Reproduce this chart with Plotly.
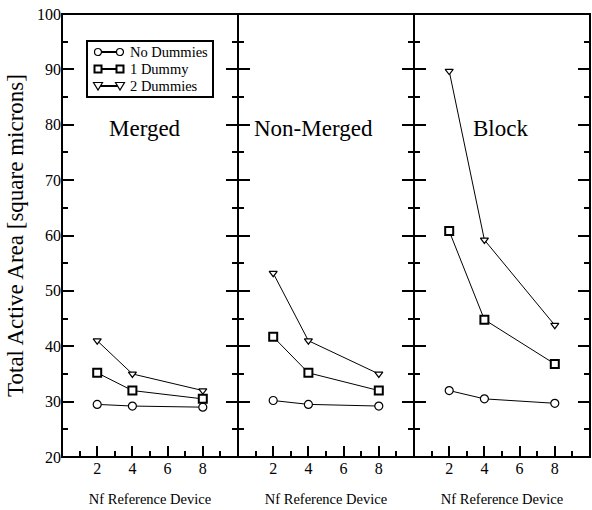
import plotly.graph_objects as go
from plotly.subplots import make_subplots

# Number of fingers of the reference device
nf = [2, 4, 8]

panels = ["Merged", "Non-Merged", "Block"]

# Total active area [square microns] per layout style
no_dummies = {
    "Merged": [29.5, 29.2, 29.0],
    "Non-Merged": [30.2, 29.5, 29.2],
    "Block": [32.0, 30.5, 29.7],
}
one_dummy = {
    "Merged": [35.2, 32.0, 30.5],
    "Non-Merged": [41.7, 35.2, 32.0],
    "Block": [60.8, 44.8, 36.8],
}
two_dummies = {
    "Merged": [41.0, 35.0, 32.0],
    "Non-Merged": [53.2, 41.0, 35.0],
    "Block": [89.7, 59.2, 43.8],
}

x_ticks = [2, 4, 6, 8]
x_minor = [1, 3, 5, 7, 9]
y_ticks = [20, 30, 40, 50, 60, 70, 80, 90, 100]

# Panel label positions (data coordinates inside each panel)
label_pos = {"Merged": (4.7, 79.3), "Non-Merged": (4.3, 79.3), "Block": (4.9, 79.3)}

FONT = "Liberation Serif"
W, H = 592, 510
ML, MR, MT, MB = 62, 2, 14, 53
PW, PH = W - ML - MR, H - MT - MB

series = [
    ("No Dummies", no_dummies, "circle", 8, 1.2),
    ("1 Dummy", one_dummy, "square", 8, 2),
    ("2 Dummies", two_dummies, "triangle-down", 7, 1.2),
]

fig = make_subplots(rows=1, cols=3, shared_yaxes=True, horizontal_spacing=0)

for col, panel in enumerate(panels, start=1):
    suffix = "" if col == 1 else str(col)
    for name, data, symbol, size, lw in series:
        fig.add_trace(
            go.Scatter(
                x=nf,
                y=data[panel],
                mode="lines+markers",
                name=name,
                showlegend=False,
                line=dict(color="black", width=1),
                marker=dict(symbol=symbol, size=size, color="white",
                            line=dict(color="black", width=lw)),
            ),
            row=1, col=col,
        )
    lx, ly = label_pos[panel]
    fig.add_annotation(
        x=lx, y=ly, xref=f"x{suffix}", yref=f"y{suffix}",
        text=panel, showarrow=False, font=dict(family=FONT, size=23, color="black"),
    )

    fig.update_xaxes(
        range=[0, 10], tickmode="array", tickvals=x_ticks,
        ticks="inside", ticklen=11, tickwidth=2, tickcolor="black",
        showline=False, showgrid=False, zeroline=False,
        tickfont=dict(family=FONT, size=16, color="black"),
        minor=dict(tickmode="array", tickvals=x_minor, ticks="inside",
                   ticklen=6, tickwidth=2, tickcolor="black", showgrid=False),
        title=dict(text="Nf Reference Device", standoff=17,
                   font=dict(family=FONT, size=14.5, color="black")),
        row=1, col=col,
    )
    fig.update_yaxes(
        range=[20, 100], tickmode="array", tickvals=y_ticks,
        ticks="inside", ticklen=12, tickwidth=2, tickcolor="black",
        showline=False, mirror="ticks",
        showgrid=False, zeroline=False,
        tickfont=dict(family=FONT, size=16, color="black"),
        minor=dict(dtick=5, tick0=0, ticks="inside", ticklen=6, tickwidth=2,
                   tickcolor="black", showgrid=False),
        row=1, col=col,
    )
    # panel frame
    fig.add_shape(type="rect", xref=f"x{suffix} domain", yref=f"y{suffix} domain",
                  x0=0, x1=1, y0=0, y1=1, line=dict(color="black", width=2),
                  layer="above")

fig.update_yaxes(
    title=dict(text="Total Active Area [square microns]", standoff=6,
               font=dict(family=FONT, size=23, color="black")),
    row=1, col=1,
)


# ---- legend box drawn in paper space (pixel helpers) ----
def px(x):
    return (x - ML) / PW


def py(y):
    return 1 - (y - MT) / PH


legend_shapes = []
legend_shapes.append(dict(type="rect", xref="paper", yref="paper",
                          x0=px(87), x1=px(213), y0=py(97), y1=py(41),
                          line=dict(color="black", width=2), fillcolor="white",
                          layer="above"))
rows_y = [52, 69, 86]
sym_x = [98, 120]
for (name, _, symbol, _, lw), ry in zip(series, rows_y):
    legend_shapes.append(dict(type="line", xref="paper", yref="paper",
                              x0=px(sym_x[0]), x1=px(sym_x[1]), y0=py(ry), y1=py(ry),
                              line=dict(color="black", width=2), layer="above"))
    for cx in sym_x:
        if symbol == "circle":
            r = 3.5
            legend_shapes.append(dict(type="circle", xref="paper", yref="paper",
                                      x0=px(cx - r), x1=px(cx + r),
                                      y0=py(ry + r), y1=py(ry - r),
                                      line=dict(color="black", width=1.2),
                                      fillcolor="white", layer="above"))
        elif symbol == "square":
            r = 3.5
            legend_shapes.append(dict(type="rect", xref="paper", yref="paper",
                                      x0=px(cx - r), x1=px(cx + r),
                                      y0=py(ry + r), y1=py(ry - r),
                                      line=dict(color="black", width=2),
                                      fillcolor="white", layer="above"))
        else:
            path = (f"M {px(cx - 4.5)},{py(ry - 3.5)} L {px(cx + 4.5)},{py(ry - 3.5)} "
                    f"L {px(cx)},{py(ry + 4)} Z")
            legend_shapes.append(dict(type="path", xref="paper", yref="paper",
                                      path=path, line=dict(color="black", width=1.2),
                                      fillcolor="white", layer="above"))
    fig.add_annotation(x=px(128), y=py(ry), xref="paper", yref="paper",
                       xanchor="left", yanchor="middle", showarrow=False,
                       text=name, font=dict(family=FONT, size=14.5, color="black"))

for s in legend_shapes:
    fig.add_shape(**s)

fig.update_layout(
    width=W, height=H,
    margin=dict(l=ML, r=MR, t=MT, b=MB),
    paper_bgcolor="white", plot_bgcolor="white",
    font=dict(family=FONT, color="black"),
    showlegend=False,
)

fig.write_html("out.html")
